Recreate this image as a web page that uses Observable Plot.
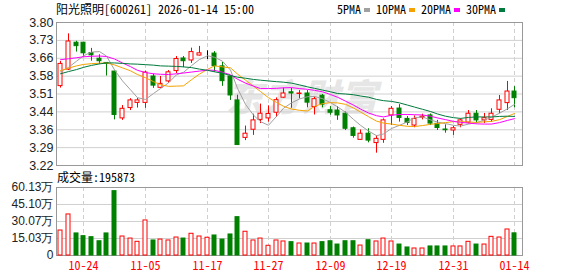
<!DOCTYPE html>
<html>
<head>
<meta charset="utf-8">
<script src="https://cdn.jsdelivr.net/npm/d3@7"></script>
<script src="https://cdn.jsdelivr.net/npm/@observablehq/plot@0.6"></script>
<style>
  html, body { margin: 0; padding: 0; background: #fff; }
  #wrap { position: relative; width: 578px; height: 276px; background: #fff; overflow: hidden; }
  .mono { font-family: 'Noto Sans Mono CJK SC', 'Liberation Mono', 'DejaVu Sans Mono', monospace; font-size: 12px; color: #000; }
  #title { position: absolute; left: 56px; top: 2px; line-height: 14px; white-space: nowrap; }
  #legend { position: absolute; left: 337px; top: 2px; line-height: 14px; display: flex; align-items: center; white-space: nowrap; }
  #legend .sw { display: inline-block; width: 6px; height: 4px; margin: 2px 6px 0 3px; }
  #vlabel { position: absolute; left: 57px; top: 170px; line-height: 14px; white-space: nowrap; }
  #wm { position: absolute; left: 226px; top: 68px; font-family: 'Noto Sans CJK SC', sans-serif; font-weight: 900; font-style: italic; font-size: 37px; color: #e6e6e6; letter-spacing: 1px; white-space: nowrap; }
  #price { position: absolute; left: 0; top: 0; }
  #vol { position: absolute; left: 0; top: 176px; }
</style>
</head>
<body>
<div id="wrap">
  <div id="wm"></div>
  <div id="price"></div>
  <div id="vol"></div>
  <div id="title" class="mono"></div>
  <div id="legend" class="mono"></div>
  <div id="vlabel" class="mono"></div>
</div>
<script>
// ---------- data ----------
const stockName = "阳光照明";
const stockCode = "600261";
const stamp = "2026-01-14 15:00";
const volumeLabel = "成交量";
const lastVolume = 195873;
const watermark = "东方财富";

const dates = ["10-21","10-22","10-23","10-24","10-27","10-28","10-29","10-30","10-31",
  "11-03","11-04","11-05","11-06","11-07","11-10","11-11","11-12","11-13","11-14",
  "11-17","11-18","11-19","11-20","11-21","11-24","11-25","11-26","11-27","11-28",
  "12-01","12-02","12-03","12-04","12-05","12-08","12-09","12-10","12-11","12-12",
  "12-15","12-16","12-17","12-18","12-19","12-22","12-23","12-24","12-25","12-26",
  "12-29","12-30","12-31","01-05","01-06","01-07","01-08","01-09","01-12","01-13","01-14"];

const open  = [3.542,3.609,3.718,3.718,3.676,3.653,3.636,3.601,3.411,3.453,
               3.474,3.474,3.581,3.535,3.561,3.603,3.654,3.646,3.666,3.673,
               3.674,3.622,3.581,3.484,3.332,3.365,3.405,3.411,3.434,3.495,
               3.517,3.510,3.512,3.457,3.503,3.444,3.443,3.430,3.371,3.324,
               3.349,3.311,3.324,3.423,3.451,3.409,3.382,3.414,3.423,3.389,
               3.366,3.362,3.385,3.394,3.430,3.403,3.405,3.446,3.473,3.520];
const high  = [3.642,3.754,3.724,3.720,3.695,3.669,3.637,3.603,3.463,3.491,
               3.492,3.603,3.591,3.581,3.605,3.662,3.662,3.696,3.703,3.685,
               3.682,3.638,3.583,3.505,3.380,3.428,3.469,3.462,3.494,3.534,
               3.533,3.524,3.524,3.498,3.508,3.459,3.459,3.437,3.376,3.364,
               3.369,3.340,3.409,3.459,3.467,3.419,3.421,3.428,3.429,3.403,
               3.385,3.380,3.409,3.443,3.443,3.431,3.450,3.504,3.561,3.540];
const low   = [3.534,3.605,3.680,3.659,3.643,3.630,3.583,3.405,3.403,3.443,
               3.453,3.452,3.533,3.533,3.553,3.593,3.617,3.634,3.664,3.650,
               3.598,3.541,3.484,3.301,3.321,3.342,3.390,3.396,3.415,3.492,
               3.452,3.490,3.454,3.425,3.454,3.424,3.403,3.362,3.331,3.323,
               3.312,3.270,3.310,3.382,3.396,3.382,3.373,3.405,3.382,3.362,
               3.351,3.342,3.373,3.389,3.389,3.390,3.396,3.430,3.443,3.454];
const close = [3.632,3.723,3.704,3.675,3.667,3.643,3.632,3.425,3.450,3.484,
               3.484,3.597,3.544,3.551,3.598,3.652,3.643,3.680,3.675,3.673,
               3.623,3.562,3.504,3.303,3.349,3.403,3.430,3.429,3.485,3.512,
               3.512,3.512,3.475,3.489,3.467,3.434,3.423,3.369,3.340,3.349,
               3.321,3.328,3.403,3.450,3.413,3.393,3.409,3.418,3.390,3.372,
               3.363,3.371,3.403,3.430,3.403,3.412,3.430,3.484,3.520,3.493];
const volume = [221000,363000,195000,171000,162000,126000,195000,569000,168000,150000,
                121000,310000,133000,141000,133000,159000,150000,192000,168000,157000,
                177000,141000,186000,339000,210000,133000,150000,86000,133000,124000,
                118000,106000,106000,106000,118000,126000,97000,126000,126000,88000,
                135000,124000,150000,124000,97000,71000,62000,62000,80000,80000,
                80000,80000,80000,121000,97000,97000,165000,159000,230000,195873];

const ma5  = [3.600,3.618,3.643,3.665,3.680,3.682,3.664,3.608,3.563,3.527,
              3.495,3.488,3.512,3.532,3.555,3.588,3.598,3.625,3.650,3.665,
              3.659,3.643,3.607,3.533,3.468,3.424,3.398,3.383,3.419,3.452,
              3.474,3.490,3.499,3.500,3.491,3.475,3.458,3.436,3.407,3.383,
              3.360,3.341,3.348,3.370,3.383,3.397,3.414,3.417,3.405,3.396,
              3.390,3.383,3.380,3.388,3.394,3.404,3.416,3.432,3.450,3.468];
const ma10 = [3.605,3.615,3.624,3.630,3.633,3.635,3.636,3.628,3.616,3.604,
              3.589,3.576,3.560,3.548,3.541,3.542,3.543,3.568,3.591,3.610,
              3.624,3.620,3.616,3.591,3.566,3.542,3.520,3.495,3.476,3.460,
              3.449,3.444,3.441,3.460,3.471,3.475,3.474,3.468,3.453,3.437,
              3.418,3.400,3.392,3.388,3.383,3.379,3.378,3.382,3.387,3.390,
              3.394,3.398,3.398,3.396,3.395,3.397,3.399,3.406,3.419,3.431];
const ma20 = [3.649,3.653,3.657,3.661,3.663,3.664,3.662,3.652,3.636,3.621,
              3.606,3.597,3.592,3.590,3.589,3.592,3.595,3.599,3.603,3.607,
              3.606,3.598,3.588,3.570,3.554,3.542,3.532,3.532,3.533,3.535,
              3.536,3.532,3.529,3.525,3.519,3.508,3.497,3.481,3.465,3.449,
              3.433,3.422,3.417,3.424,3.427,3.427,3.426,3.425,3.420,3.413,
              3.406,3.399,3.395,3.392,3.389,3.388,3.388,3.394,3.403,3.410];
const ma30 = [3.592,3.601,3.609,3.618,3.626,3.632,3.636,3.636,3.634,3.632,
              3.631,3.629,3.627,3.624,3.623,3.622,3.620,3.617,3.611,3.606,
              3.600,3.594,3.585,3.578,3.574,3.569,3.566,3.563,3.560,3.558,
              3.554,3.547,3.539,3.533,3.526,3.519,3.512,3.510,3.507,3.502,
              3.497,3.488,3.483,3.480,3.474,3.465,3.457,3.448,3.439,3.429,
              3.420,3.414,3.411,3.415,3.417,3.417,3.417,3.419,3.420,3.419];

const maNames = ["5PMA","10PMA","20PMA","30PMA"];
const tickDates = ["10-24","11-05","11-17","11-27","12-09","12-19","12-31","01-14"];
const priceLabels = ["3.22","3.29","3.36","3.44","3.51","3.58","3.66","3.73","3.80"];
const volLabels = ["0","15.03万","30.07万","45.10万","60.13万"];

// ---------- styles ----------
const UP = "#ff0000", DOWN = "#008000", FLAT = "#000000";
const maColors = ["#a0a0a0", "#f5a200", "#ff00ff", "#007a3d"];
const GRID = "#d0d0d0", FRAME = "#999999";
const axisFont = "'Liberation Sans', Arial, sans-serif";
const monoFont = "'Noto Sans Mono CJK SC', 'Liberation Mono', 'DejaVu Sans Mono', monospace";

// ---------- derived ----------
const priceMin = +priceLabels[0], priceMax = +priceLabels[priceLabels.length - 1];
const priceTicks = priceLabels.map((_, k) => priceMin + k * (priceMax - priceMin) / (priceLabels.length - 1));
const volMax = 601300;
const volTicks = volLabels.map((_, k) => k * volMax / (volLabels.length - 1));
const rows = dates.map((d, i) => ({i, date: d, open: open[i], high: high[i], low: low[i], close: close[i], volume: volume[i]}));
const col = r => r.close > r.open ? UP : r.close < r.open ? DOWN : FLAT;
const volCol = r => r.close >= r.open ? UP : DOWN;
const tickIdx = tickDates.map(d => dates.indexOf(d));
const hw = 0.26;
const xDomain = [-0.56, dates.length];

// ---------- header ----------
document.getElementById("title").textContent = `${stockName}[${stockCode}] ${stamp}`;
document.getElementById("vlabel").textContent = `${volumeLabel}:${lastVolume}`;
document.getElementById("wm").textContent = watermark;
const lg = document.getElementById("legend");
maNames.forEach((n, k) => {
  const t = document.createElement("span"); t.textContent = n; lg.appendChild(t);
  const s = document.createElement("span"); s.className = "sw"; s.style.background = maColors[k]; lg.appendChild(s);
});

// ---------- price panel ----------
const maSeries = [ma5, ma10, ma20, ma30];
const price = Plot.plot({
  width: 578, height: 176,
  marginTop: 22, marginBottom: 11, marginLeft: 56, marginRight: 56,
  style: {background: "transparent", fontFamily: axisFont, fontSize: "12px", overflow: "visible"},
  x: {domain: xDomain, axis: null, round: true},
  y: {domain: [priceMin, priceMax], axis: null},
  marks: [
    Plot.ruleY(priceTicks.slice(1, -1), {stroke: GRID}),
    Plot.ruleX(tickIdx, {stroke: GRID, strokeDasharray: "4,3"}),
    Plot.frame({stroke: FRAME}),
    Plot.axisY(priceTicks, {tickSize: 0, tickPadding: 3, fontSize: 12.5, fill: "#222", label: null,
      tickFormat: d => priceLabels[priceTicks.indexOf(d)]}),
    Plot.ruleX(rows, {x: "i", y1: "low", y2: "high", stroke: col}),
    Plot.rect(rows, {x1: r => r.i - hw, x2: r => r.i + hw, y1: "open", y2: "close",
      fill: r => r.close > r.open ? "white" : col(r), stroke: col}),
    ...maSeries.map((s, k) => Plot.lineY(s, {x: (d, i) => i, y: d => d, stroke: maColors[k], strokeWidth: 1}))
  ]
});
document.getElementById("price").appendChild(price);

// ---------- volume panel ----------
const vol = Plot.plot({
  width: 578, height: 100,
  marginTop: 11, marginBottom: 21, marginLeft: 56, marginRight: 56,
  style: {background: "transparent", fontFamily: axisFont, fontSize: "12px", overflow: "visible"},
  x: {domain: xDomain, axis: null, round: true},
  y: {domain: [0, volMax], axis: null},
  marks: [
    Plot.ruleY(volTicks.slice(1, -1), {stroke: GRID}),
    Plot.ruleX(tickIdx, {stroke: GRID, strokeDasharray: "4,3"}),
    Plot.frame({stroke: FRAME}),
    Plot.axisY(volTicks, {tickSize: 0, tickPadding: 3, fontSize: 12, fill: "#222", label: null,
      tickFormat: d => volLabels[volTicks.indexOf(d)]}),
    Plot.axisX(tickIdx, {tickSize: 0, tickPadding: 6, fontSize: 12, fill: "#ff0000", fontFamily: monoFont, label: null,
      tickFormat: i => dates[i]}),
    Plot.rect(rows, {x1: r => r.i - hw, x2: r => r.i + hw, y1: 0, y2: "volume",
      fill: r => volCol(r) === UP ? "white" : DOWN, stroke: volCol})
  ]
});
document.getElementById("vol").appendChild(vol);
</script>
</body>
</html>
